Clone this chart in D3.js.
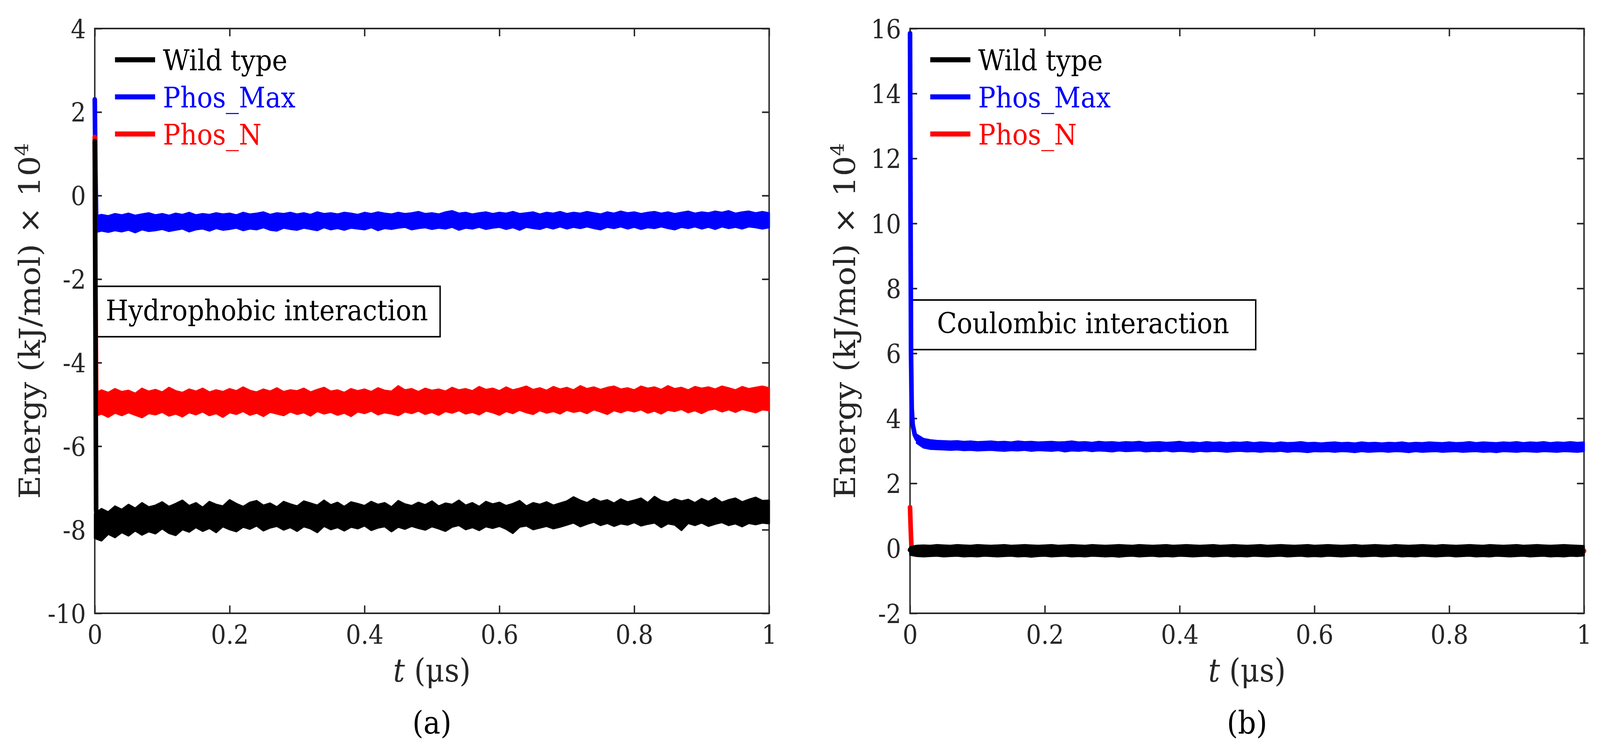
<!DOCTYPE html>
<html lang="en">
<head>
<meta charset="UTF-8">
<title>Energy vs time</title>
<style>
  html, body { margin: 0; padding: 0; background: #fff; overflow: hidden; }
  #chart svg { display: block; width: 100vw; height: 100vh; }
  text { font-family: "DejaVu Serif", serif; }
</style>
</head>
<body>
<script src="https://d3js.org/d3.v7.min.js"></script>
<div id="chart"></div>
<script>

// ---------- data ----------
const seriesNames = ["Wild type", "Phos_Max", "Phos_N"];
const seriesColors = ["#000000", "#0000ff", "#ff0000"];

const xTicks = [0, 0.2, 0.4, 0.6, 0.8, 1];
const yTicksA = [-10, -8, -6, -4, -2, 0, 2, 4];
const yTicksB = [-2, 0, 2, 4, 6, 8, 10, 12, 14, 16];

// sample times (us) for the noisy steady part
const tGrid = [0,0.01,0.02,0.03,0.04,0.05,0.06,0.07,0.08,0.09,
  0.10,0.11,0.12,0.13,0.14,0.15,0.16,0.17,0.18,0.19,
  0.20,0.21,0.22,0.23,0.24,0.25,0.26,0.27,0.28,0.29,
  0.30,0.31,0.32,0.33,0.34,0.35,0.36,0.37,0.38,0.39,
  0.40,0.41,0.42,0.43,0.44,0.45,0.46,0.47,0.48,0.49,
  0.50,0.51,0.52,0.53,0.54,0.55,0.56,0.57,0.58,0.59,
  0.60,0.61,0.62,0.63,0.64,0.65,0.66,0.67,0.68,0.69,
  0.70,0.71,0.72,0.73,0.74,0.75,0.76,0.77,0.78,0.79,
  0.80,0.81,0.82,0.83,0.84,0.85,0.86,0.87,0.88,0.89,
  0.90,0.91,0.92,0.93,0.94,0.95,0.96,0.97,0.98,0.99,1.00];

// (a) hydrophobic: initial drop
const wildA_headT = [0, 0.001, 0.002, 0.004, 0.01];
const wildA_headV = [1.3, -3.0, -7.5, -7.95, -7.9];
const maxA_headT = [0, 0.001, 0.002, 0.003];
const maxA_headV = [2.3, 0.6, -0.5, -0.7];
const nA_headT = [0, 0.001, 0.002, 0.003];
const nA_headV = [1.4, -2.0, -4.6, -5.0];

// (a) noisy band: upper / lower envelope
const wildA_hi = [-7.62,-7.50,-7.58,-7.44,-7.52,-7.40,-7.49,-7.36,-7.46,-7.42,
  -7.34,-7.45,-7.38,-7.30,-7.43,-7.36,-7.47,-7.33,-7.40,-7.44,
  -7.29,-7.38,-7.45,-7.35,-7.31,-7.42,-7.37,-7.46,-7.33,-7.39,
  -7.44,-7.32,-7.37,-7.42,-7.30,-7.41,-7.35,-7.45,-7.34,-7.38,
  -7.43,-7.33,-7.40,-7.36,-7.46,-7.31,-7.39,-7.43,-7.35,-7.41,
  -7.32,-7.44,-7.37,-7.40,-7.30,-7.42,-7.36,-7.45,-7.33,-7.39,
  -7.35,-7.43,-7.38,-7.31,-7.44,-7.36,-7.40,-7.34,-7.42,-7.37,
  -7.32,-7.22,-7.30,-7.36,-7.26,-7.33,-7.29,-7.37,-7.27,-7.34,
  -7.30,-7.25,-7.36,-7.21,-7.31,-7.35,-7.27,-7.32,-7.28,-7.36,
  -7.26,-7.33,-7.24,-7.35,-7.29,-7.25,-7.34,-7.28,-7.23,-7.31,-7.30];
const wildA_lo = [-8.20,-8.26,-8.10,-8.18,-8.06,-8.14,-8.02,-8.12,-8.04,-8.09,
  -7.97,-8.08,-8.13,-7.99,-8.05,-7.94,-8.03,-7.96,-8.06,-7.92,
  -7.99,-8.04,-7.93,-7.98,-7.90,-8.02,-7.95,-7.91,-8.00,-7.94,
  -8.03,-7.92,-7.97,-8.06,-7.91,-7.99,-7.94,-8.02,-7.93,-7.97,
  -7.90,-8.01,-7.95,-7.92,-8.04,-7.93,-7.98,-7.91,-7.96,-8.00,
  -7.92,-7.97,-8.03,-7.93,-7.89,-7.99,-7.94,-8.01,-7.92,-7.96,
  -7.91,-7.98,-8.08,-7.93,-7.90,-7.99,-7.95,-7.91,-7.97,-7.93,
  -7.88,-7.83,-7.92,-7.86,-7.81,-7.89,-7.84,-7.91,-7.85,-7.88,
  -7.82,-7.90,-7.86,-7.83,-7.94,-7.85,-7.88,-8.01,-7.84,-7.89,
  -7.83,-7.91,-7.86,-7.82,-7.89,-7.85,-7.92,-7.84,-7.87,-7.83,-7.85];

const maxA_hi = [-0.50,-0.46,-0.49,-0.44,-0.47,-0.43,-0.48,-0.45,-0.42,-0.47,
  -0.44,-0.48,-0.43,-0.46,-0.41,-0.47,-0.44,-0.46,-0.42,-0.45,
  -0.43,-0.47,-0.41,-0.45,-0.43,-0.40,-0.46,-0.42,-0.44,-0.41,
  -0.45,-0.42,-0.46,-0.40,-0.44,-0.42,-0.45,-0.41,-0.43,-0.46,
  -0.41,-0.44,-0.40,-0.43,-0.45,-0.41,-0.44,-0.42,-0.39,-0.44,
  -0.42,-0.45,-0.40,-0.37,-0.43,-0.41,-0.45,-0.42,-0.40,-0.44,
  -0.41,-0.43,-0.39,-0.44,-0.42,-0.40,-0.45,-0.41,-0.43,-0.39,
  -0.44,-0.41,-0.43,-0.39,-0.42,-0.45,-0.40,-0.43,-0.38,-0.42,
  -0.40,-0.44,-0.41,-0.39,-0.43,-0.40,-0.44,-0.41,-0.38,-0.43,
  -0.40,-0.42,-0.38,-0.41,-0.37,-0.43,-0.40,-0.38,-0.42,-0.39,-0.42];
const maxA_lo = [-0.88,-0.84,-0.87,-0.83,-0.86,-0.82,-0.88,-0.81,-0.85,-0.83,
  -0.80,-0.85,-0.82,-0.79,-0.86,-0.81,-0.79,-0.84,-0.78,-0.82,
  -0.80,-0.77,-0.83,-0.79,-0.81,-0.76,-0.82,-0.84,-0.77,-0.80,
  -0.82,-0.77,-0.80,-0.83,-0.76,-0.81,-0.78,-0.82,-0.77,-0.79,
  -0.81,-0.76,-0.83,-0.78,-0.80,-0.77,-0.75,-0.81,-0.78,-0.76,
  -0.80,-0.77,-0.79,-0.75,-0.82,-0.77,-0.79,-0.75,-0.80,-0.77,
  -0.75,-0.80,-0.76,-0.82,-0.75,-0.78,-0.80,-0.75,-0.79,-0.74,
  -0.79,-0.75,-0.78,-0.74,-0.78,-0.81,-0.75,-0.78,-0.74,-0.79,
  -0.75,-0.80,-0.76,-0.78,-0.74,-0.78,-0.81,-0.75,-0.78,-0.74,
  -0.79,-0.75,-0.80,-0.74,-0.78,-0.75,-0.79,-0.74,-0.76,-0.79,-0.76];

const nA_hi = [-4.74,-4.66,-4.72,-4.63,-4.70,-4.67,-4.74,-4.62,-4.69,-4.65,
  -4.71,-4.60,-4.68,-4.72,-4.64,-4.69,-4.62,-4.71,-4.66,-4.70,
  -4.63,-4.68,-4.59,-4.67,-4.71,-4.64,-4.69,-4.61,-4.70,-4.66,
  -4.68,-4.62,-4.71,-4.65,-4.60,-4.69,-4.66,-4.72,-4.63,-4.68,
  -4.64,-4.70,-4.61,-4.67,-4.69,-4.56,-4.66,-4.63,-4.70,-4.62,
  -4.67,-4.64,-4.69,-4.60,-4.66,-4.63,-4.68,-4.58,-4.65,-4.62,
  -4.68,-4.59,-4.66,-4.62,-4.57,-4.65,-4.61,-4.67,-4.58,-4.64,
  -4.60,-4.66,-4.56,-4.63,-4.59,-4.65,-4.60,-4.57,-4.64,-4.61,
  -4.66,-4.57,-4.62,-4.59,-4.65,-4.56,-4.63,-4.60,-4.66,-4.58,
  -4.62,-4.59,-4.64,-4.57,-4.61,-4.66,-4.58,-4.63,-4.60,-4.57,-4.61];
const nA_lo = [-5.28,-5.22,-5.30,-5.20,-5.26,-5.19,-5.25,-5.31,-5.21,-5.24,
  -5.18,-5.27,-5.22,-5.29,-5.19,-5.24,-5.17,-5.26,-5.21,-5.30,
  -5.19,-5.23,-5.16,-5.25,-5.20,-5.28,-5.18,-5.22,-5.26,-5.17,
  -5.23,-5.19,-5.27,-5.16,-5.22,-5.18,-5.25,-5.20,-5.28,-5.17,
  -5.21,-5.15,-5.24,-5.19,-5.22,-5.26,-5.17,-5.21,-5.15,-5.23,
  -5.18,-5.25,-5.16,-5.20,-5.14,-5.22,-5.18,-5.24,-5.15,-5.19,
  -5.25,-5.16,-5.21,-5.13,-5.19,-5.23,-5.14,-5.20,-5.16,-5.22,
  -5.13,-5.18,-5.15,-5.21,-5.12,-5.17,-5.23,-5.14,-5.19,-5.13,
  -5.17,-5.12,-5.20,-5.15,-5.22,-5.13,-5.16,-5.11,-5.19,-5.14,
  -5.21,-5.13,-5.10,-5.17,-5.12,-5.18,-5.11,-5.15,-5.19,-5.12,-5.14];

// (b) coulombic: initial drop
const wildB_headT = [0, 0.002, 0.004];
const wildB_headV = [-0.05, -0.07, -0.08];
const maxB_headT = [0, 0.0008, 0.0015, 0.0025, 0.004, 0.007, 0.01];
const maxB_headV = [15.85, 10.0, 6.0, 4.3, 3.8, 3.5, 3.37];
const nB_headT = [0, 0.001, 0.002, 0.004, 0.5, 1.0];
const nB_headV = [1.26, 0.6, 0.1, -0.05, -0.08, -0.08];

// (b) noisy band, Wild type from t = 0, Phos_Max from t = 0.01
const wildB_hi = [0.04,0.08,0.09,0.08,0.10,0.09,0.08,0.10,0.09,0.08,
  0.10,0.09,0.08,0.09,0.10,0.08,0.09,0.10,0.09,0.08,
  0.09,0.10,0.08,0.09,0.10,0.09,0.08,0.10,0.09,0.08,
  0.09,0.10,0.09,0.08,0.10,0.09,0.08,0.09,0.10,0.08,
  0.09,0.10,0.09,0.08,0.09,0.10,0.08,0.09,0.10,0.09,
  0.08,0.09,0.10,0.08,0.09,0.10,0.09,0.08,0.09,0.10,
  0.08,0.09,0.10,0.09,0.08,0.09,0.10,0.08,0.09,0.10,
  0.09,0.08,0.10,0.09,0.08,0.09,0.10,0.09,0.08,0.10,
  0.09,0.08,0.09,0.10,0.09,0.08,0.10,0.09,0.08,0.09,
  0.10,0.08,0.09,0.10,0.09,0.08,0.09,0.10,0.09,0.08,0.07];
const wildB_lo = [-0.20,-0.24,-0.25,-0.24,-0.23,-0.25,-0.24,-0.23,-0.25,-0.24,
  -0.25,-0.23,-0.24,-0.25,-0.24,-0.23,-0.25,-0.24,-0.26,-0.24,
  -0.23,-0.25,-0.24,-0.23,-0.25,-0.24,-0.25,-0.23,-0.24,-0.25,
  -0.24,-0.26,-0.24,-0.23,-0.25,-0.24,-0.23,-0.25,-0.24,-0.25,
  -0.23,-0.24,-0.25,-0.24,-0.23,-0.25,-0.24,-0.23,-0.25,-0.24,
  -0.25,-0.23,-0.24,-0.25,-0.24,-0.23,-0.25,-0.24,-0.23,-0.25,
  -0.24,-0.25,-0.23,-0.24,-0.25,-0.24,-0.23,-0.25,-0.24,-0.23,
  -0.25,-0.24,-0.23,-0.25,-0.24,-0.25,-0.23,-0.24,-0.25,-0.24,
  -0.23,-0.25,-0.24,-0.23,-0.25,-0.24,-0.25,-0.23,-0.24,-0.25,
  -0.24,-0.23,-0.25,-0.24,-0.23,-0.25,-0.24,-0.25,-0.23,-0.24,-0.22];

const maxB_hi = [3.50,3.37,3.33,3.31,3.30,3.29,3.30,3.28,3.29,3.27,
  3.28,3.29,3.27,3.28,3.26,3.29,3.27,3.28,3.26,3.27,
  3.28,3.26,3.27,3.29,3.26,3.27,3.25,3.28,3.26,3.27,
  3.25,3.27,3.26,3.28,3.25,3.26,3.27,3.25,3.26,3.28,
  3.25,3.26,3.24,3.27,3.25,3.26,3.24,3.26,3.25,3.27,
  3.24,3.26,3.25,3.23,3.26,3.24,3.25,3.27,3.24,3.25,
  3.23,3.25,3.26,3.24,3.25,3.23,3.26,3.24,3.25,3.23,
  3.25,3.24,3.26,3.23,3.25,3.24,3.26,3.25,3.24,3.26,
  3.24,3.25,3.27,3.24,3.26,3.25,3.24,3.26,3.25,3.27,
  3.24,3.26,3.25,3.27,3.24,3.26,3.25,3.27,3.25,3.26];
const maxB_lo = [3.24,3.10,3.06,3.05,3.04,3.03,3.04,3.02,3.03,3.01,
  3.02,3.03,3.01,3.00,3.02,3.01,3.03,3.00,3.02,3.01,
  3.00,3.02,2.98,3.01,3.00,3.02,2.99,3.01,3.00,2.98,
  3.01,2.99,3.00,3.01,2.98,3.00,2.99,3.01,2.98,3.00,
  2.99,2.97,3.00,2.98,3.00,2.99,2.97,2.99,3.00,2.98,
  2.99,2.97,2.99,2.98,3.00,2.97,2.99,2.98,2.96,2.99,
  2.98,2.99,2.97,2.99,2.98,2.96,2.99,2.97,2.98,2.99,
  2.97,2.99,2.98,2.96,2.99,2.97,2.98,2.99,2.97,2.98,
  2.99,2.97,2.98,2.99,2.97,2.98,2.96,2.99,2.98,2.97,
  2.99,2.98,2.97,2.99,2.98,2.97,2.99,2.98,2.97,2.99];

// ---------- layout ----------
const W = 4508, H = 1920;
const plotTop = 73, plotBottom = 1570;
const axisColor = "#262626";
const lineW = 13;

// the drawing is laid out on a 4508 x 1920 grid and stretched to fill the window
const svg = d3.select("#chart").append("svg")
  .attr("viewBox", [0, 0, W, H])
  .attr("preserveAspectRatio", "none");
svg.append("rect").attr("width", W).attr("height", H).attr("fill", "#fff");

function bandData(t, hi, lo) {
  return t.map((d, i) => ({ t: d, hi: hi[i], lo: lo[i] }));
}
function headData(t, v) {
  return t.map((d, i) => ({ t: d, v: v[i] }));
}

function drawPanel(p) {
  const x = d3.scaleLinear().domain([0, 1]).range([p.left, p.right]);
  const y = d3.scaleLinear().domain(p.yDomain).range([plotBottom, plotTop]);
  const g = svg.append("g");

  // axes (ticks inward on all four sides)
  const styleAxis = sel => {
    sel.select(".domain").remove();
    sel.selectAll(".tick line").attr("stroke", axisColor).attr("stroke-width", 4);
    sel.selectAll(".tick text").attr("fill", axisColor)
      .attr("font-family", "DejaVu Serif").attr("font-size", 67);
  };
  g.append("g").attr("transform", `translate(0,${plotBottom})`)
    .call(d3.axisBottom(x).tickValues(xTicks).tickSize(-20).tickFormat(d => String(d)))
    .call(styleAxis)
    .call(s => s.selectAll(".tick text").attr("y", 78).attr("dy", null));
  g.append("g").attr("transform", `translate(0,${plotTop})`)
    .call(d3.axisTop(x).tickValues(xTicks).tickSize(-20).tickFormat(""))
    .call(styleAxis);
  g.append("g").attr("transform", `translate(${p.left},0)`)
    .call(d3.axisLeft(y).tickValues(p.yTicks).tickSize(-20).tickPadding(25).tickFormat(d => String(d)))
    .call(styleAxis)
    .call(s => s.selectAll(".tick text").attr("dy", "0.36em"));
  g.append("g").attr("transform", `translate(${p.right},0)`)
    .call(d3.axisRight(y).tickValues(p.yTicks).tickSize(-20).tickFormat(""))
    .call(styleAxis);
  g.append("rect")
    .attr("x", p.left).attr("y", plotTop)
    .attr("width", p.right - p.left).attr("height", plotBottom - plotTop)
    .attr("fill", "none").attr("stroke", axisColor).attr("stroke-width", 4);

  // annotation box
  g.append("rect")
    .attr("x", p.box.x).attr("y", p.box.y)
    .attr("width", p.box.w).attr("height", p.box.h)
    .attr("fill", "#fff").attr("stroke", "#000").attr("stroke-width", 4);
  g.append("text")
    .attr("x", p.box.tx).attr("y", p.box.ty)
    .attr("font-size", 73).attr("fill", "#000")
    .text(p.box.text);

  // series: Phos_Max, Phos_N, then Wild type on top
  const area = d3.area()
    .x(d => x(d.t)).y0(d => y(d.lo)).y1(d => y(d.hi));
  const line = d3.line().x(d => x(d.t)).y(d => y(d.v));
  p.series.forEach(s => {
    if (s.band) {
      g.append("path")
        .datum(s.band)
        .attr("d", area)
        .attr("fill", s.color)
        .attr("stroke", s.color)
        .attr("stroke-width", 5)
        .attr("stroke-linejoin", "round");
    }
    g.append("path")
      .datum(s.head)
      .attr("d", line)
      .attr("fill", "none")
      .attr("stroke", s.color)
      .attr("stroke-width", lineW)
      .attr("stroke-linecap", "round")
      .attr("stroke-linejoin", "round");
  });

  // legend
  const leg = g.append("g");
  seriesNames.forEach((name, i) => {
    const ly = 153 + i * 95;
    leg.append("line")
      .attr("x1", p.left + 57).attr("x2", p.left + 170)
      .attr("y1", ly).attr("y2", ly)
      .attr("stroke", seriesColors[i]).attr("stroke-width", lineW);
    leg.append("text")
      .attr("x", p.left + 192).attr("y", ly + 27)
      .attr("font-size", 73).attr("fill", seriesColors[i])
      .text(name);
  });

  // axis labels
  const cx = (p.left + p.right) / 2;
  const xl = g.append("text")
    .attr("x", cx).attr("y", 1745)
    .attr("text-anchor", "middle").attr("font-size", 82).attr("fill", axisColor);
  xl.append("tspan").attr("font-style", "italic").text("t");
  xl.append("tspan").text(" (μs)");

  const yl = g.append("text")
    .attr("transform", `translate(${p.left - 155},${(plotTop + plotBottom) / 2}) rotate(-90)`)
    .attr("text-anchor", "middle").attr("font-size", 82).attr("fill", axisColor);
  yl.append("tspan").text("Energy (kJ/mol) × 10");
  yl.append("tspan").attr("font-size", 52).attr("dy", "-0.62em").text("4");

  g.append("text")
    .attr("x", cx).attr("y", 1878)
    .attr("text-anchor", "middle").attr("font-size", 80).attr("fill", "#000")
    .text(p.label);
}

drawPanel({
  left: 267, right: 2167,
  yDomain: [-10, 4], yTicks: yTicksA,
  label: "(a)",
  box: { x: 272, y: 733, w: 968, h: 129, tx: 298, ty: 820, text: "Hydrophobic interaction" },
  series: [
    { color: seriesColors[1], head: headData(maxA_headT, maxA_headV), band: bandData(tGrid, maxA_hi, maxA_lo) },
    { color: seriesColors[2], head: headData(nA_headT, nA_headV), band: bandData(tGrid, nA_hi, nA_lo) },
    { color: seriesColors[0], head: headData(wildA_headT, wildA_headV), band: bandData(tGrid, wildA_hi, wildA_lo) }
  ]
});

drawPanel({
  left: 2564, right: 4463,
  yDomain: [-2, 16], yTicks: yTicksB,
  label: "(b)",
  box: { x: 2564, y: 768, w: 974, h: 127, tx: 2640, ty: 853, text: "Coulombic interaction" },
  series: [
    { color: seriesColors[1], head: headData(maxB_headT, maxB_headV), band: bandData(tGrid.slice(1), maxB_hi, maxB_lo) },
    { color: seriesColors[2], head: headData(nB_headT, nB_headV), band: null },
    { color: seriesColors[0], head: headData(wildB_headT, wildB_headV), band: bandData(tGrid, wildB_hi, wildB_lo) }
  ]
});

</script>
</body>
</html>
